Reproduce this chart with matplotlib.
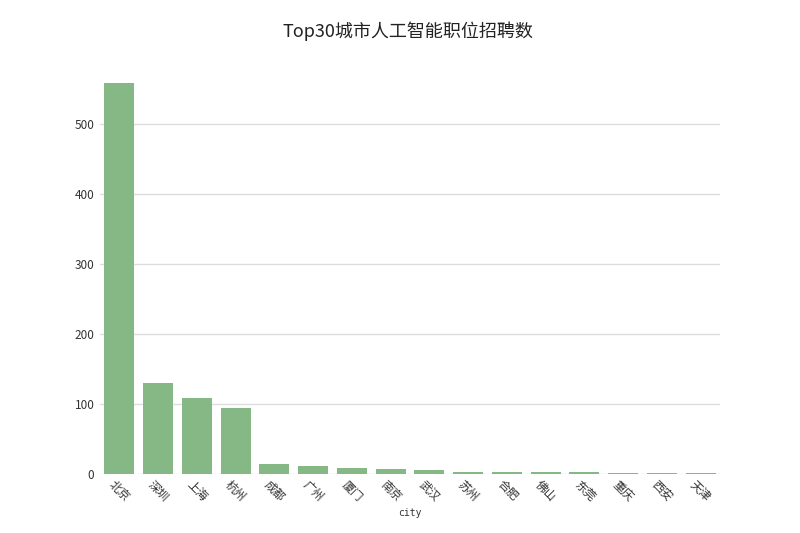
import matplotlib
matplotlib.use("Agg")
import matplotlib.pyplot as plt

plt.rcParams['font.family'] = ['Noto Sans CJK SC', 'DejaVu Sans']

cities = ["北京", "深圳", "上海", "杭州", "成都", "广州", "厦门", "南京", "武汉",
          "苏州", "合肥", "佛山", "东莞", "重庆", "西安", "天津"]
counts = [559, 130, 109, 94, 14, 12, 8, 7, 6, 3, 3, 3, 3, 1, 1, 1]
yticks = [0, 100, 200, 300, 400, 500]

fig = plt.figure(figsize=(8, 5.33), dpi=100)
ax = fig.add_axes([0.125, 0.1107, 0.775, 0.7617])

x = list(range(len(cities)))
ax.bar(x, counts, width=0.78, color="#86b886", zorder=2)

ax.set_xlim(-0.5, len(cities) - 0.5)
ax.set_ylim(0, 580)
ax.set_yticks(yticks)
ax.set_yticklabels([str(v) for v in yticks], fontsize=8.5, color="#333333")
ax.set_xticks(x)
ax.set_xticklabels(cities, rotation=-45, ha="center", va="top",
                   fontsize=8.5, color="#333333")
ax.tick_params(axis="both", length=0, pad=4)
ax.tick_params(axis="x", pad=3)
for s in ax.spines.values():
    s.set_visible(False)
ax.grid(axis="y", color="#dddddd", linewidth=1, zorder=0)
ax.set_axisbelow(True)

ax.set_xlabel("city", fontsize=7, family="DejaVu Sans Mono", color="#333333", labelpad=3)
fig.text(0.51, 0.942, "Top30城市人工智能职位招聘数", ha="center", va="center",
         fontsize=13, color="#222222")

fig.savefig("out.png", dpi=100, facecolor="white")
